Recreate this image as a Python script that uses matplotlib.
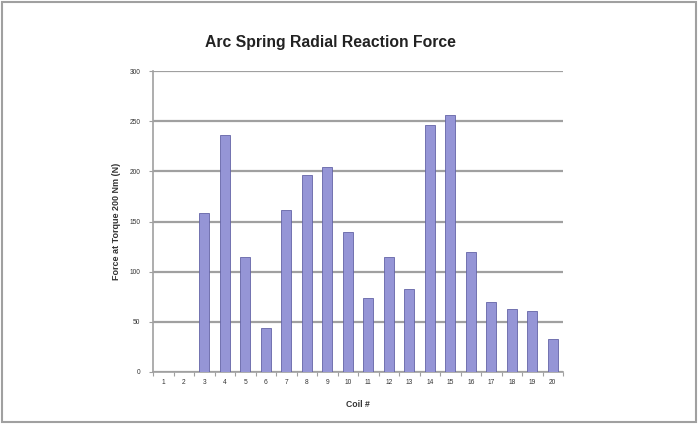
import matplotlib.pyplot as plt
from matplotlib.patches import Rectangle

###############################################################################
#  DATA
###############################################################################
coils = list(range(1, 21))
coil_labels = [str(c) for c in coils]
force = [0, 0, 158, 236, 115, 44, 161, 196, 204, 140,
         74, 115, 83, 246, 256, 120, 70, 63, 61, 33]
y_ticks = [0, 50, 100, 150, 200, 250, 300]

###############################################################################
#  STYLE
###############################################################################
BAR_FACE = "#9595d6"
BAR_EDGE = "#6464a6"
GRID_COLOR = "#a0a0a0"
TEXT_COLOR = "#333333"
FONT = ["Liberation Sans", "DejaVu Sans"]

plt.rcParams["font.family"] = FONT

fig = plt.figure(figsize=(6.98, 4.25), dpi=100)

# light gray frame round the whole picture
fig.patches.append(Rectangle((0.003, 0.007), 0.994, 0.988, transform=fig.transFigure,
                             fill=False, edgecolor="#a0a0a0", linewidth=1.5))

# axes box in pixels: x 153..563, y 71..372 (from top)
W, H = 698, 425
ax = fig.add_axes([153 / W, (H - 372) / H, (563 - 153) / W, (372 - 71) / H])

ax.bar(coils, force, width=0.5, color=BAR_FACE, edgecolor=BAR_EDGE,
       linewidth=0.6, zorder=3)

ax.set_xlim(0.5, 20.5)
ax.set_ylim(0, 300)
ax.set_yticks(y_ticks)
ax.set_xticks(coils)
ax.set_xticklabels(coil_labels)
ax.set_xticks([c + 0.5 for c in range(0, 21)], minor=True)

ax.yaxis.grid(True, color=GRID_COLOR, linewidth=1.6, zorder=0)
ax.set_axisbelow(True)

for side in ["top", "right"]:
    ax.spines[side].set_visible(False)
for side in ["left", "bottom"]:
    ax.spines[side].set_color(GRID_COLOR)
    ax.spines[side].set_linewidth(1.2)

ax.tick_params(axis="x", which="major", length=0, labelsize=4.8,
               labelcolor=TEXT_COLOR, pad=5)
ax.tick_params(axis="x", which="minor", length=3, color=GRID_COLOR, width=0.8)
ax.tick_params(axis="y", length=3, color=GRID_COLOR, width=0.8,
               labelsize=4.8, labelcolor=TEXT_COLOR, pad=6)

ax.set_xlabel("Coil #", fontsize=6.2, fontweight="bold", color=TEXT_COLOR, labelpad=10)
ax.set_ylabel("Force at Torque 200 Nm (N)", fontsize=6.5, fontweight="bold",
              color=TEXT_COLOR, labelpad=6)

fig.text(330 / W, 1 - 42 / H, "Arc Spring Radial Reaction Force", fontsize=11.3,
         fontweight="bold", color="#222222", ha="center", va="center")

plt.savefig("out.png", dpi=100)
